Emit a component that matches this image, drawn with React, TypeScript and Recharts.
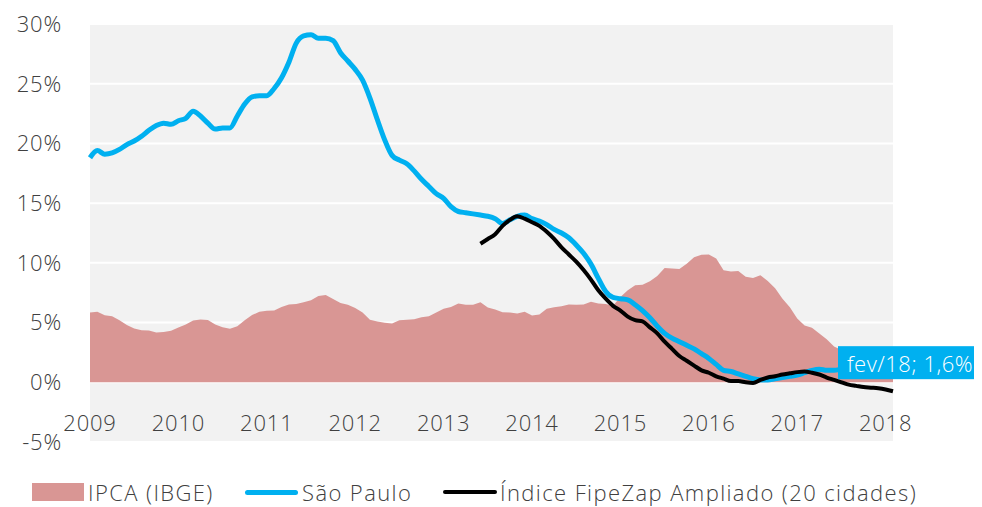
import React from "react";
import {
  ComposedChart,
  Area,
  Line,
  XAxis,
  YAxis,
  CartesianGrid,
  Legend,
  ReferenceDot,
} from "recharts";

// monthly, jan/09 .. fev/18
const ipca = [
  5.84, 5.9, 5.61, 5.53, 5.2, 4.8, 4.5, 4.36, 4.34, 4.17, 4.22, 4.31,
  4.59, 4.83, 5.17, 5.26, 5.22, 4.84, 4.6, 4.49, 4.7, 5.2, 5.63, 5.91,
  5.99, 6.01, 6.3, 6.51, 6.55, 6.71, 6.87, 7.23, 7.31, 6.97, 6.64, 6.5,
  6.22, 5.85, 5.24, 5.1, 4.99, 4.92, 5.2, 5.24, 5.28, 5.45, 5.53, 5.84,
  6.15, 6.31, 6.59, 6.49, 6.5, 6.7, 6.27, 6.09, 5.86, 5.84, 5.77, 5.91,
  5.59, 5.68, 6.15, 6.28, 6.37, 6.52, 6.5, 6.51, 6.75, 6.59, 6.56, 6.41,
  7.14, 7.7, 8.13, 8.17, 8.47, 8.89, 9.56, 9.53, 9.49, 9.93, 10.48, 10.67,
  10.71, 10.36, 9.39, 9.28, 9.32, 8.84, 8.74, 8.97, 8.48, 7.87, 6.99, 6.29,
  5.35, 4.76, 4.57, 4.08, 3.6, 3.0, 2.71, 2.46, 2.54, 2.7, 2.8, 2.95,
  2.86, 2.84,
];

const saoPaulo = [
  18.8, 19.4, 19.1, 19.2, 19.5, 19.9, 20.2, 20.6, 21.1, 21.5, 21.7, 21.6,
  21.9, 22.1, 22.7, 22.3, 21.7, 21.2, 21.3, 21.3, 22.3, 23.3, 23.9, 24.0,
  24.0, 24.6, 25.5, 26.8, 28.4, 29.0, 29.1, 28.8, 28.8, 28.6, 27.6, 26.9,
  26.2, 25.3, 23.8, 22.0, 20.3, 19.0, 18.6, 18.3, 17.7, 17.0, 16.4, 15.8,
  15.4, 14.7, 14.3, 14.2, 14.1, 14.0, 13.9, 13.7, 13.3, 13.6, 13.9, 14.0,
  13.7, 13.5, 13.2, 12.8, 12.5, 12.1, 11.5, 10.8, 9.9, 8.7, 7.6, 7.1,
  7.0, 6.9, 6.5, 6.0, 5.4, 4.7, 4.1, 3.7, 3.4, 3.1, 2.8, 2.4,
  2.0, 1.5, 1.0, 0.9, 0.7, 0.5, 0.3, 0.2, 0.2, 0.3, 0.4, 0.5,
  0.6, 0.8, 1.0, 1.1, 1.0, 1.0, 1.1, 1.2, 1.2, 1.3, 1.4, 1.5,
  1.5, 1.6,
];

// starts jun/13
const fipezapStart = 53;
const fipezap = [
  11.6, 12.0, 12.4, 13.1, 13.6, 13.9, 13.7,
  13.4, 13.1, 12.6, 12.0, 11.3, 10.7, 10.1, 9.4, 8.6, 7.7, 7.0, 6.4,
  6.0, 5.5, 5.2, 5.1, 4.6, 4.1, 3.4, 2.8, 2.2, 1.8, 1.4, 1.0,
  0.8, 0.5, 0.3, 0.1, 0.1, 0.0, -0.05, 0.2, 0.4, 0.5, 0.65, 0.75,
  0.85, 0.9, 0.8, 0.65, 0.4, 0.2, 0.0, -0.2, -0.3, -0.4, -0.45, -0.5,
  -0.6, -0.75,
];

const years = ["2009", "2010", "2011", "2012", "2013", "2014", "2015", "2016", "2017", "2018"];
const yTicks = [-5, 0, 5, 10, 15, 20, 25, 30];
const lastLabel = "fev/18; 1,6%";

const data = ipca.map((v, i) => ({
  i,
  ipca: v,
  sp: saoPaulo[i],
  br: i >= fipezapStart ? fipezap[i - fipezapStart] : null,
}));
const last = data.length - 1;

const FONT = "'Open Sans', 'Segoe UI', sans-serif";
const TEXT = "#404040";
const FS = 22;
const FW = 350;

const XTick = ({ x, y, payload }: any) => (
  <text
    x={x}
    y={y - 20}
    textAnchor="middle"
    dominantBaseline="central"
    fontSize={FS}
    fontWeight={FW}
    letterSpacing={0.8}
    fontFamily={FONT}
    fill={TEXT}
  >
    {years[Math.round(payload.value / 12)]}
  </text>
);

const LastLabel = ({ viewBox }: any) => {
  const cx = viewBox.cx ?? viewBox.x;
  const cy = viewBox.cy ?? viewBox.y;
  return (
    <g>
      <rect x={cx - 55} y={cy - 17} width={142} height={33} fill="#00B0F0" />
      <text
        x={cx + 17}
        y={cy}
        textAnchor="middle"
        dominantBaseline="central"
        fontSize={FS}
        fontWeight={300}
        letterSpacing={0.5}
        fontFamily={FONT}
        fill="#fff"
      >
        {lastLabel}
      </text>
    </g>
  );
};

const legendText: React.CSSProperties = {
  position: "absolute",
  top: 0,
  fontSize: FS,
  fontWeight: FW,
  letterSpacing: 1.4,
  fontFamily: FONT,
  color: TEXT,
  lineHeight: "28px",
  whiteSpace: "nowrap",
};

const LegendContent = () => (
  <div style={{ position: "relative", width: 974, height: 28 }}>
    <div style={{ position: "absolute", left: 24, top: 5, width: 52, height: 18, background: "#D99694" }} />
    <div style={{ ...legendText, left: 80 }}>IPCA (IBGE)</div>
    <div style={{ position: "absolute", left: 237, top: 12, width: 53, height: 5, borderRadius: 3, background: "#00B0F0" }} />
    <div style={{ ...legendText, left: 294 }}>São Paulo</div>
    <div style={{ position: "absolute", left: 435, top: 12, width: 54, height: 4, borderRadius: 2, background: "#000" }} />
    <div style={{ ...legendText, left: 492 }}>Índice FipeZap Ampliado (20 cidades)</div>
  </div>
);

export default function App() {
  return (
    <ComposedChart
      width={974}
      height={499}
      data={data}
      margin={{ top: 16, right: 89, left: 0, bottom: 35 }}
    >
      <CartesianGrid
        vertical={false}
        fill="#F2F2F2"
        stroke="#ffffff"
        strokeWidth={2}
      />
      <XAxis
        dataKey="i"
        type="number"
        domain={[0, last]}
        ticks={years.map((_, k) => k * 12)}
        axisLine={false}
        tickLine={false}
        tickSize={0}
        tickMargin={0}
        height={30}
        tick={<XTick />}
      />
      <YAxis
        domain={[-5, 30]}
        ticks={yTicks}
        axisLine={false}
        tickLine={false}
        tickSize={0}
        tickMargin={28}
        width={82}
        tickFormatter={(v) => `${v}%`}
        tick={{ fontSize: FS, fontWeight: FW, letterSpacing: 0.8, fontFamily: FONT, fill: TEXT }}
      />
      <Area
        type="linear"
        dataKey="ipca"
        name="IPCA (IBGE)"
        fill="#D99694"
        fillOpacity={1}
        stroke="none"
        isAnimationActive={false}
      />
      <Line
        type="monotone"
        dataKey="sp"
        name="São Paulo"
        stroke="#00B0F0"
        strokeWidth={5}
        dot={false}
        activeDot={false}
        isAnimationActive={false}
      />
      <Line
        type="monotone"
        dataKey="br"
        name="Índice FipeZap Ampliado (20 cidades)"
        stroke="#000000"
        strokeWidth={4}
        dot={false}
        activeDot={false}
        isAnimationActive={false}
      />
      <ReferenceDot
        x={last}
        y={saoPaulo[last]}
        r={0}
        fill="none"
        stroke="none"
        ifOverflow="visible"
        label={<LastLabel />}
      />
      <Legend
        verticalAlign="middle"
        align="center"
        layout="horizontal"
        wrapperStyle={{ top: 470, left: 0, width: 974 }}
        content={<LegendContent />}
      />
    </ComposedChart>
  );
}
